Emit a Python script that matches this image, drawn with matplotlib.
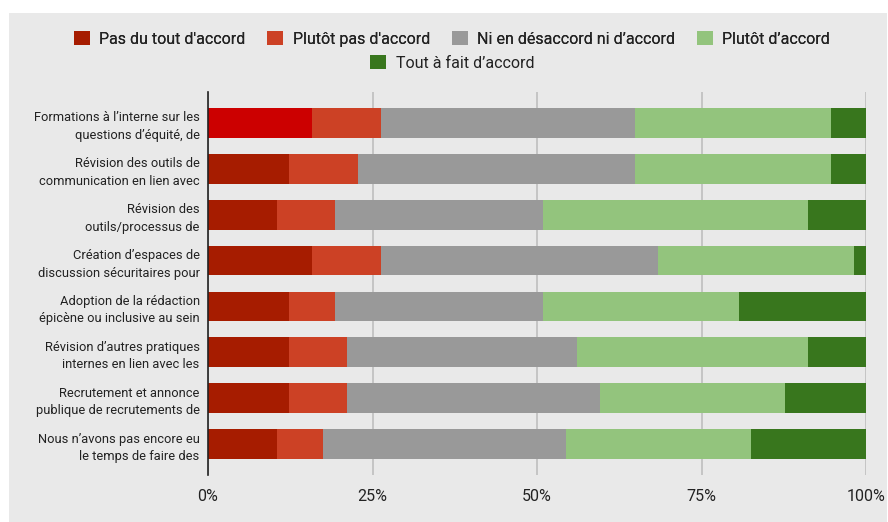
import matplotlib.pyplot as plt
import numpy as np
from matplotlib.patches import Rectangle

plt.rcParams["font.family"] = ["Roboto", "DejaVu Sans"]

# Responses per initiative (57 respondents each)
categories = [
    "Formations à l’interne sur les\nquestions d’équité, de",
    "Révision des outils de\ncommunication en lien avec",
    "Révision des\noutils/processus de",
    "Création d’espaces de\ndiscussion sécuritaires pour",
    "Adoption de la rédaction\népicène ou inclusive au sein",
    "Révision d’autres pratiques\ninternes en lien avec les",
    "Recrutement et annonce\npublique de recrutements de",
    "Nous n’avons pas encore eu\nle temps de faire des",
]
levels = [
    "Pas du tout d'accord",
    "Plutôt pas d'accord",
    "Ni en désaccord ni d’accord",
    "Plutôt d’accord",
    "Tout à fait d’accord",
]
pas_du_tout = [9, 7, 6, 9, 7, 7, 7, 6]
plutot_pas = [6, 6, 5, 6, 4, 5, 5, 4]
neutre = [22, 24, 18, 24, 18, 20, 22, 21]
plutot = [17, 17, 23, 17, 17, 20, 16, 16]
tout_a_fait = [3, 3, 5, 1, 11, 5, 7, 10]
tick_labels = ["0%", "25%", "50%", "75%", "100%"]

colors = ["#a61c00", "#cc4125", "#999999", "#93c47d", "#38761d"]
highlight_color = "#cc0000"
panel_color = "#e9e9e9"
text_color = "#222222"

counts = np.array([pas_du_tout, plutot_pas, neutre, plutot, tout_a_fait], dtype=float)
shares = counts / counts.sum(axis=0)

fig = plt.figure(figsize=(8.88, 5.22), dpi=100)
fig.patch.set_facecolor("white")
fig.patches.append(Rectangle((9 / 888, 0), 878 / 888, 1 - 13 / 522,
                             transform=fig.transFigure, facecolor=panel_color,
                             edgecolor="none", zorder=-5))

ax = fig.add_axes([208 / 888, 47 / 522, 658 / 888, 383 / 522])
ax.set_facecolor("none")

y = np.arange(len(categories))
left = np.zeros(len(categories))
bar_sets = []
for i, level in enumerate(levels):
    bars = ax.barh(y, shares[i], left=left, height=0.65, color=colors[i],
                   edgecolor="none", label=level, zorder=3)
    bar_sets.append(bars)
    left += shares[i]

# first segment of the first bar is shown in the brighter red
bar_sets[0][0].set_facecolor(highlight_color)

ax.set_xlim(0, 1)
ax.set_ylim(len(categories) - 0.33, -0.67)
ax.set_xticks([0, 0.25, 0.5, 0.75, 1.0])
ax.set_xticklabels(tick_labels)
ax.set_yticks(y)
ax.set_yticklabels(categories, fontsize=9.3, color=text_color, linespacing=1.45)

ax.grid(axis="x", color="#c4c4c4", linewidth=1.4, zorder=1)
ax.tick_params(axis="x", length=0, pad=10, labelsize=11.5, labelcolor=text_color)
ax.tick_params(axis="y", length=0, pad=6)
for side in ["top", "right", "bottom"]:
    ax.spines[side].set_visible(False)
ax.spines["left"].set_color("#222222")
ax.spines["left"].set_linewidth(1.2)
ax.spines["left"].set_zorder(4)

handles = [b[1] for b in bar_sets]
leg_kw = dict(frameon=False, fontsize=11.5, handlelength=1.0, handleheight=1.0,
              handletextpad=0.6, columnspacing=1.35, labelcolor=text_color, loc="center")
leg1 = fig.legend(handles[:4], levels[:4], ncol=4,
                  bbox_to_anchor=(452 / 888, 1 - 39 / 522), **leg_kw)
fig.legend(handles[4:], levels[4:], ncol=1,
           bbox_to_anchor=(452 / 888, 1 - 63 / 522), **leg_kw)
fig.add_artist(leg1)

fig.savefig("out.png", dpi=100)
